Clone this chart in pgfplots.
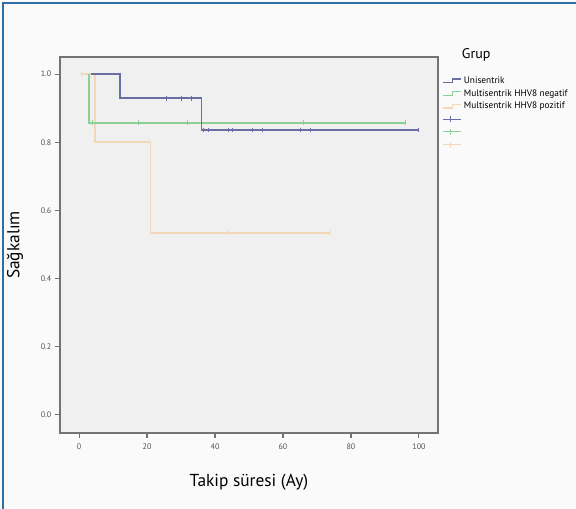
\documentclass[border=0pt]{standalone}
\usepackage{fontspec}
\setmainfont{PT Sans}
\usepackage{pgfplots}
\pgfplotsset{compat=1.18}

\definecolor{plotbg}{RGB}{240,240,240}
\definecolor{framegray}{RGB}{115,115,115}
\definecolor{ticktext}{RGB}{80,80,80}
\definecolor{uni}{RGB}{105,110,165}
\definecolor{neg}{RGB}{140,208,150}
\definecolor{poz}{RGB}{242,215,185}
\definecolor{edgeblue}{RGB}{45,110,170}

\pgfplotsset{
    stepimg/.style={legend image code/.code={%
        \draw[##1] (0pt,-1.3pt) -- (7.5pt,-1.3pt) -- (7.5pt,1.3pt) -- (13.5pt,1.3pt);}},
    censimg/.style={legend image code/.code={%
        \draw[##1] (0pt,0pt) -- (13.5pt,0pt); \draw[##1] (6pt,-2.2pt) -- (6pt,2.2pt);}},
}

\begin{document}
\begin{tikzpicture}
% page: 576x509 px at 0.75pt per px
\fill[white!98!black] (0pt,0pt) rectangle (432pt,-381.75pt);
\useasboundingbox (0pt,0pt) rectangle (432pt,-381.75pt);
\draw[edgeblue, line width=1.4pt] (2.25pt,-381.75pt) -- (2.25pt,-2.25pt) -- (432pt,-2.25pt);

\begin{axis}[
    at={(45pt,-324.75pt)}, anchor=south west,
    scale only axis,
    width=283.5pt, height=282pt,
    xmin=-5.6, xmax=105.6,
    ymin=-0.053, ymax=1.05,
    xtick={0,20,40,60,80,100},
    ytick={0,0.2,0.4,0.6,0.8,1.0},
    yticklabel style={/pgf/number format/fixed, /pgf/number format/fixed zerofill, /pgf/number format/precision=1},
    /pgf/number format/assume math mode=true,
    tick label style={font=\fontsize{6}{7}\selectfont, text=ticktext},
    xticklabel style={yshift=-1pt},
    yticklabel style={xshift=0.5pt},
    tick align=outside,
    tick pos=left,
    major tick length=3.5pt,
    every tick/.style={framegray, line width=0.8pt},
    axis background/.style={fill=plotbg},
    axis line style={framegray, line width=0.9pt},
    xlabel={Takip süresi (Ay)},
    ylabel={Sağkalım},
    label style={font=\fontsize{13}{15}\selectfont},
    xlabel style={at={(axis description cs:0.5,-0.131)}, anchor=center},
    ylabel style={at={(axis description cs:-0.119,0.5)}, anchor=center},
    clip mode=individual,
    legend cell align=left,
    legend style={at={(axis description cs:1.0106,0.950)}, anchor=north west,
        draw=none, fill=none, inner sep=0pt, row sep=2.6pt,
        font=\fontsize{7}{8}\selectfont,
        nodes={inner sep=0pt, text height=5.5pt, text depth=1.5pt}},
    /tikz/every odd column/.append style={column sep=1.8pt},
]
% step curves
\addplot[const plot, poz, line width=1.2pt, forget plot] coordinates {
    (0.8,1) (4.7,0.80) (21,0.534) (74,0.534)
};
\addplot[const plot, neg, line width=1.2pt, forget plot] coordinates {
    (3,1) (3,0.857) (96,0.857)
};
\addplot[const plot, uni, line width=1.2pt, forget plot] coordinates {
    (3.5,1) (12,0.929) (36,0.836) (100,0.836)
};
% censored observations
\addplot[only marks, mark=|, mark size=1.8pt, uni, line width=0.7pt, forget plot] coordinates {
    (25.8,0.929) (30,0.929) (33,0.929)
    (36.5,0.836) (38,0.836) (44,0.836) (45,0.836) (51,0.836) (54,0.836)
    (65,0.836) (68,0.836) (100,0.836)
};
\addplot[only marks, mark=|, mark size=1.8pt, neg, line width=0.7pt, forget plot] coordinates {
    (4,0.857) (17.6,0.857) (32,0.857) (66,0.857) (96,0.857)
};
\addplot[only marks, mark=|, mark size=1.8pt, poz, line width=0.7pt, forget plot] coordinates {
    (0.8,1) (44,0.534) (74,0.534)
};

% legend
\addlegendimage{uni, line width=0.9pt, stepimg}
\addlegendentry{Unisentrik}
\addlegendimage{neg, line width=0.9pt, stepimg}
\addlegendentry{Multisentrik HHV8 negatif}
\addlegendimage{poz, line width=0.9pt, stepimg}
\addlegendentry{Multisentrik HHV8 pozitif}
\addlegendimage{uni, line width=0.8pt, censimg}
\addlegendentry{}
\addlegendimage{neg, line width=0.8pt, censimg}
\addlegendentry{}
\addlegendimage{poz, line width=0.8pt, censimg}
\addlegendentry{}

\node[anchor=base west, font=\fontsize{10.5}{12}\selectfont, inner sep=0pt]
    at (axis description cs:1.0627,0.9965) {Grup};
\draw[framegray, line width=1.8pt] (axis description cs:0,0) -- (axis description cs:0,1);
\end{axis}
\end{tikzpicture}
\end{document}
